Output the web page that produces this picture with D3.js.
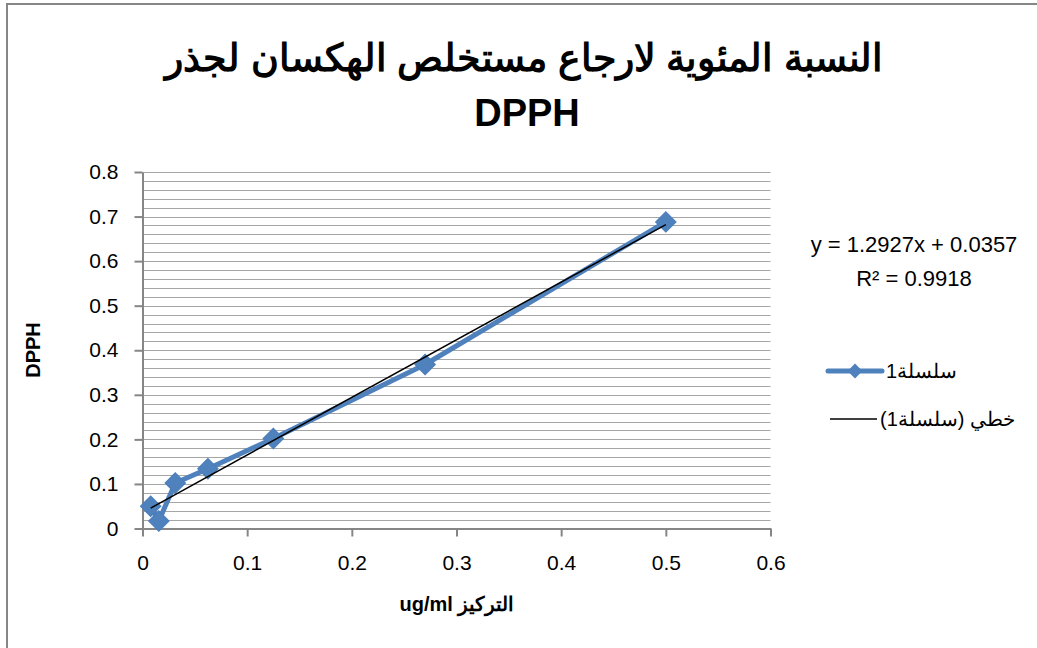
<!DOCTYPE html>
<html lang="ar">
<head>
<meta charset="UTF-8">
<title>DPPH</title>
<script src="https://cdn.jsdelivr.net/npm/d3@7"></script>
<style>
  body { margin: 0; background: #fff; }
  text { font-family: "Liberation Sans", Arial, sans-serif; }
</style>
</head>
<body>
<svg id="svg"></svg>
<script>
var WIDTH = 1037;
var HEIGHT = 648;

// data
var concentrations = [0.0078, 0.0156, 0.0313, 0.0625, 0.125, 0.27, 0.5];
var dpphValues = [0.05, 0.017, 0.102, 0.134, 0.202, 0.368, 0.688];
var xTicks = [0, 0.1, 0.2, 0.3, 0.4, 0.5, 0.6];
var yTicks = [0, 0.1, 0.2, 0.3, 0.4, 0.5, 0.6, 0.7, 0.8];
var slope = 1.2927;
var intercept = 0.0357;
var rSquared = 0.9918;

var titleLines = ["النسبة المئوية لارجاع مستخلص الهكسان لجذر", "DPPH"];
var xTitle = "التركيز ug/ml";
var yTitle = "DPPH";
var seriesName = "سلسلة1";
var trendName = "خطي (سلسلة1)";

var BLUE = "#4F81BD";
var AXIS = "#868686";
var GRID = "#A6A6A6";

var PLOT = {left: 142.5, right: 770.5, top: 172, bottom: 528.5};

var svg = d3.select("#svg")
            .attr("width", WIDTH)
            .attr("height", HEIGHT);

// outer chart border
svg.append("rect")
   .attr("x", 7).attr("y", 4)
   .attr("width", 1040).attr("height", 660)
   .attr("fill", "white")
   .attr("stroke", AXIS)
   .attr("stroke-width", 2);

var xScale = d3.scaleLinear().domain([0, 0.6]).range([PLOT.left, PLOT.right]);
var yScale = d3.scaleLinear().domain([0, 0.8]).range([PLOT.bottom, PLOT.top]);

// horizontal gridlines every 0.02
svg.append("g")
   .selectAll("line")
   .data(d3.range(1, 41).map(function(i){ return i * 0.02; }))
   .enter()
   .append("line")
   .attr("x1", PLOT.left)
   .attr("x2", PLOT.right)
   .attr("y1", function(d){ return Math.round(yScale(d)) + 0.5; })
   .attr("y2", function(d){ return Math.round(yScale(d)) + 0.5; })
   .attr("stroke", GRID)
   .attr("stroke-width", 1);

// axes
var xAxis = d3.axisBottom(xScale)
              .tickValues(xTicks)
              .tickSize(8)
              .tickSizeOuter(0)
              .tickPadding(19)
              .tickFormat(d3.format("~g"));

var yAxis = d3.axisLeft(yScale)
              .tickValues(yTicks)
              .tickSize(8)
              .tickSizeOuter(0)
              .tickPadding(16)
              .tickFormat(d3.format("~g"));

var gx = svg.append("g")
   .attr("transform", "translate(0," + PLOT.bottom + ")")
   .call(xAxis);

var gy = svg.append("g")
   .attr("transform", "translate(" + PLOT.left + ",0)")
   .call(yAxis);

[gx, gy].forEach(function(g){
    g.selectAll("path, line").attr("stroke", AXIS).attr("stroke-width", 2);
    g.selectAll("text")
     .attr("fill", "#000")
     .attr("font-family", "Liberation Sans, Arial, sans-serif")
     .attr("font-size", 21);
});

// series line
var line = d3.line()
             .x(function(d, i){ return xScale(concentrations[i]); })
             .y(function(d){ return yScale(d); });

svg.append("path")
   .datum(dpphValues)
   .attr("d", line)
   .attr("fill", "none")
   .attr("stroke", BLUE)
   .attr("stroke-width", 5)
   .attr("stroke-linejoin", "round")
   .attr("stroke-linecap", "round");

// markers
var diamond = d3.symbol().type(d3.symbolSquare).size(210);

svg.append("g")
   .selectAll("path")
   .data(dpphValues)
   .enter()
   .append("path")
   .attr("d", diamond)
   .attr("transform", function(d, i){
       return "translate(" + xScale(concentrations[i]) + "," + yScale(d) + ") rotate(45)";
   })
   .attr("fill", BLUE)
   .attr("stroke", "#4A7EBB")
   .attr("stroke-width", 1);

// linear trendline
var xMin = d3.min(concentrations);
var xMax = d3.max(concentrations);
svg.append("line")
   .attr("x1", xScale(xMin))
   .attr("y1", yScale(slope * xMin + intercept))
   .attr("x2", xScale(xMax))
   .attr("y2", yScale(slope * xMax + intercept))
   .attr("stroke", "#000")
   .attr("stroke-width", 1.5);

// title
svg.append("text")
   .attr("x", 524).attr("y", 71)
   .attr("text-anchor", "middle")
   .attr("font-size", 38)
   .attr("font-weight", "bold")
   .style("direction", "rtl")
   .text(titleLines[0]);

svg.append("text")
   .attr("x", 527).attr("y", 126)
   .attr("text-anchor", "middle")
   .attr("font-size", 38)
   .attr("font-weight", "bold")
   .text(titleLines[1]);

// axis titles
svg.append("text")
   .attr("x", 457).attr("y", 611)
   .attr("text-anchor", "middle")
   .attr("font-size", 20)
   .attr("font-weight", "bold")
   .style("direction", "rtl")
   .text(xTitle);

svg.append("text")
   .attr("transform", "translate(40,350) rotate(-90)")
   .attr("text-anchor", "middle")
   .attr("font-size", 20)
   .attr("font-weight", "bold")
   .text(yTitle);

// trendline equation
svg.append("text")
   .attr("x", 914).attr("y", 252)
   .attr("text-anchor", "middle")
   .attr("font-size", 22)
   .text("y = " + slope + "x + " + intercept);

svg.append("text")
   .attr("x", 914).attr("y", 286)
   .attr("text-anchor", "middle")
   .attr("font-size", 22)
   .text("R² = " + rSquared);

// legend
var legend = svg.append("g");

legend.append("line")
      .attr("x1", 828).attr("x2", 882)
      .attr("y1", 371).attr("y2", 371)
      .attr("stroke", BLUE)
      .attr("stroke-width", 5)
      .attr("stroke-linecap", "round");

legend.append("path")
      .attr("d", d3.symbol().type(d3.symbolSquare).size(110))
      .attr("transform", "translate(855,371) rotate(45)")
      .attr("fill", BLUE);

legend.append("line")
      .attr("x1", 830).attr("x2", 877)
      .attr("y1", 419).attr("y2", 419)
      .attr("stroke", "#000")
      .attr("stroke-width", 1.5);

var legendTexts = [
    {label: seriesName, left: 886, y: 378},
    {label: trendName, left: 880, y: 426}
];

legendTexts.forEach(function(t){
    var el = legend.append("text")
          .attr("y", t.y)
          .attr("text-anchor", "middle")
          .attr("font-size", 20)
          .style("direction", "rtl")
          .text(t.label);
    var w = el.node().getComputedTextLength();
    el.attr("x", t.left + w / 2);
});
</script>
</body>
</html>
